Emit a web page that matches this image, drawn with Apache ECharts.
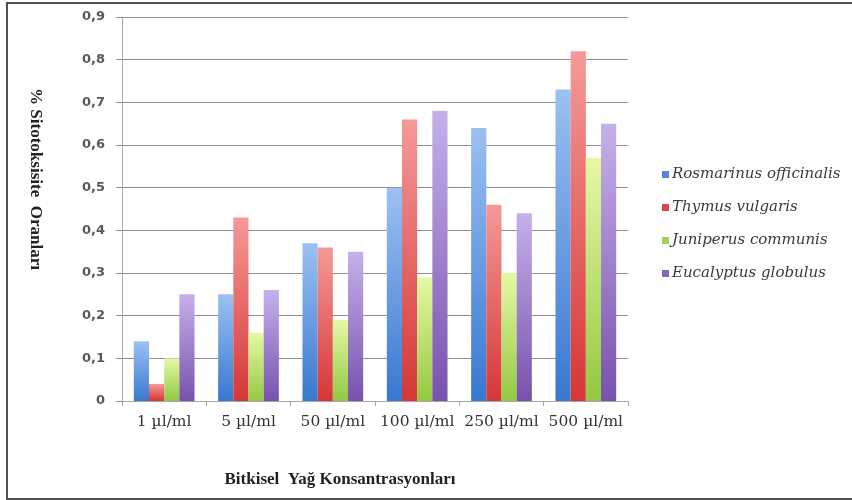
<!DOCTYPE html>
<html>
<head>
<meta charset="utf-8">
<script src="https://cdn.jsdelivr.net/npm/echarts@6/dist/echarts.min.js"></script>
<style>
  html, body { margin: 0; padding: 0; background: #fff; }
  #chart { width: 852px; height: 500px; }
</style>
</head>
<body>
<div id="chart"></div>
<script>
// Concentrations of the plant oils (x axis)
const categories = ['1 µl/ml', '5 µl/ml', '50 µl/ml', '100 µl/ml', '250 µl/ml', '500 µl/ml'];

// Cytotoxicity ratios per essential oil
const rosmarinus = [0.14, 0.25, 0.37, 0.50, 0.64, 0.73];
const thymus     = [0.04, 0.43, 0.36, 0.66, 0.46, 0.82];
const juniperus  = [0.10, 0.16, 0.19, 0.29, 0.30, 0.57];
const eucalyptus = [0.25, 0.26, 0.35, 0.68, 0.44, 0.65];

const seriesNames = ['Rosmarinus officinalis', 'Thymus vulgaris', 'Juniperus communis', 'Eucalyptus globulus'];
const seriesData = [rosmarinus, thymus, juniperus, eucalyptus];

// light top -> saturated bottom for each bar colour
const palette = [
  { top: '#9cc0f2', bottom: '#3878d0', legend: '#4f86d6' },
  { top: '#f49a98', bottom: '#d63636', legend: '#d94848' },
  { top: '#e6f9a6', bottom: '#93c842', legend: '#a5d15a' },
  { top: '#c6b0ea', bottom: '#7752ad', legend: '#8466bb' }
];

function grad(c) {
  return new echarts.graphic.LinearGradient(0, 0, 0, 1, [
    { offset: 0, color: c.top },
    { offset: 1, color: c.bottom }
  ]);
}

const chart = echarts.init(document.getElementById('chart'), null, { renderer: 'canvas' });

const series = seriesData.map((d, i) => ({
  name: seriesNames[i],
  type: 'bar',
  data: d,
  barGap: '0%',
  barCategoryGap: '28%',
  itemStyle: { color: grad(palette[i]) },
  emphasis: { disabled: true }
}));

chart.setOption({
  animation: false,
  backgroundColor: '#ffffff',
  grid: { left: 122, right: 224, top: 17, bottom: 99 },
  legend: {
    orient: 'vertical',
    left: 657,
    top: 162,
    itemWidth: 7,
    itemHeight: 7,
    itemGap: 18,
    icon: 'rect',
    data: seriesNames.map((n, i) => ({ name: n, itemStyle: { color: palette[i].legend } })),
    textStyle: {
      fontFamily: 'DejaVu Serif',
      fontStyle: 'italic',
      fontSize: 15,
      color: '#3a3a3a',
      padding: [0, 0, 0, -2]
    }
  },
  xAxis: {
    type: 'category',
    data: categories,
    axisLine: { lineStyle: { color: '#a6a6a6', width: 1 } },
    axisTick: { show: true, length: 5, lineStyle: { color: '#a6a6a6' } },
    axisLabel: {
      interval: 0,
      fontFamily: 'DejaVu Serif',
      fontSize: 15.5,
      color: '#333333',
      margin: 13
    }
  },
  yAxis: {
    type: 'value',
    min: 0,
    max: 0.9,
    interval: 0.1,
    axisLine: { show: true, lineStyle: { color: '#a8a8b8', width: 1 } },
    axisTick: { show: true, length: 6, lineStyle: { color: '#8c8c8c' } },
    splitLine: { lineStyle: { color: '#8c8c8c', width: 1 } },
    axisLabel: {
      fontFamily: 'DejaVu Sans',
      fontWeight: 'bold',
      fontSize: 13,
      color: '#595959',
      margin: 17,
      formatter: v => v.toFixed(1).replace('.', ',').replace(/^0,0$/, '0')
    }
  },
  series: series,
  graphic: [
    // picture frame
    { type: 'polyline', shape: { points: [[852, 3], [7, 3], [7, 499], [852, 499]] },
      style: { stroke: '#505050', lineWidth: 2, fill: null } },
    // y-axis title
    { type: 'text', x: 35, y: 179, rotation: -Math.PI / 2,
      style: { text: '% Sitotoksisite  Oranları', fontFamily: 'Liberation Serif', fontWeight: 'bold',
               fontSize: 17, fill: '#222', align: 'center', verticalAlign: 'middle' } },
    // x-axis title
    { type: 'text', x: 340, y: 480,
      style: { text: 'Bitkisel  Yağ Konsantrasyonları', fontFamily: 'Liberation Serif', fontWeight: 'bold',
               fontSize: 17, fill: '#222', align: 'center', verticalAlign: 'middle' } }
  ]
});
</script>
</body>
</html>
